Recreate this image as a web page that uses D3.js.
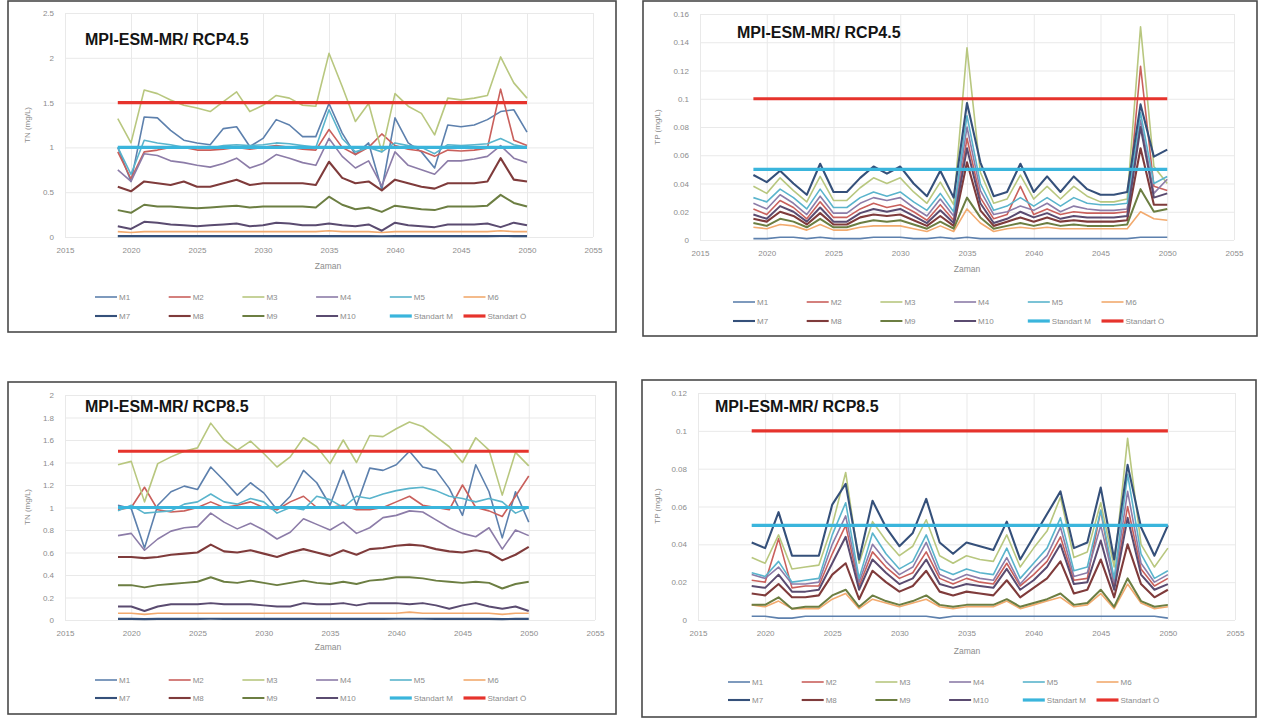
<!DOCTYPE html>
<html>
<head>
<meta charset="utf-8">
<script src="https://cdn.jsdelivr.net/npm/d3@7"></script>
<style>
  body { margin: 0; background: #fff; }
  svg { display: block; }
  text { font-family: "Liberation Sans", Arial, sans-serif; }
</style>
</head>
<body>
<svg id="chart" width="1266" height="720"></svg>
<script>
// ---- data ----
const years = [2019,2020,2021,2022,2023,2024,2025,2026,2027,2028,2029,2030,2031,2032,2033,2034,
               2035,2036,2037,2038,2039,2040,2041,2042,2043,2044,2045,2046,2047,2048,2049,2050];
const seriesNames = ["M1","M2","M3","M4","M5","M6","M7","M8","M9","M10"];
const standardNames = ["Standart M","Standart Ö"];
const xTicks = [2015,2020,2025,2030,2035,2040,2045,2050,2055];
const tnTicks45 = [0,0.5,1,1.5,2,2.5];
const tpTicks45 = [0,0.02,0.04,0.06,0.08,0.1,0.12,0.14,0.16];
const tnTicks85 = [0,0.2,0.4,0.6,0.8,1,1.2,1.4,1.6,1.8,2];
const tpTicks85 = [0,0.02,0.04,0.06,0.08,0.1,0.12];
const tnStandards = [1.0, 1.5];
const tpStandards = [0.05, 0.1];

// TN, RCP4.5 (rows M1..M10)
const tn45 = [
  [1.00,0.62,1.34,1.33,1.19,1.08,1.05,1.03,1.21,1.23,1.01,1.10,1.31,1.25,1.12,1.12,1.49,1.16,0.92,1.05,0.53,1.33,1.05,0.95,0.77,1.25,1.23,1.25,1.31,1.40,1.42,1.17],
  [0.95,0.65,0.95,0.97,1.00,1.00,0.97,0.97,0.98,1.00,0.98,1.00,1.02,1.00,0.98,0.97,1.20,1.00,0.92,1.00,1.15,1.02,0.98,0.96,0.90,0.97,0.96,0.97,0.99,1.65,1.08,1.02],
  [1.32,1.05,1.64,1.60,1.53,1.47,1.44,1.40,1.51,1.62,1.40,1.47,1.58,1.55,1.47,1.46,2.05,1.68,1.29,1.49,0.95,1.60,1.46,1.38,1.14,1.55,1.53,1.55,1.58,2.01,1.72,1.55],
  [0.75,0.62,0.93,0.91,0.85,0.83,0.80,0.78,0.82,0.88,0.77,0.82,0.92,0.88,0.83,0.80,1.10,0.90,0.77,0.85,0.57,0.95,0.80,0.75,0.70,0.85,0.85,0.87,0.90,1.02,0.88,0.83],
  [1.00,0.70,1.08,1.05,1.03,1.00,1.00,0.99,1.02,1.03,1.02,1.03,1.05,1.04,1.02,1.00,1.42,1.10,0.95,1.00,0.95,1.05,1.02,1.00,0.93,1.03,1.02,1.03,1.04,1.10,1.03,1.00],
  [0.06,0.05,0.06,0.06,0.06,0.06,0.06,0.06,0.06,0.06,0.06,0.06,0.06,0.06,0.06,0.06,0.07,0.06,0.06,0.06,0.05,0.06,0.06,0.06,0.06,0.06,0.06,0.06,0.06,0.07,0.06,0.06],
  [0.010,0.010,0.010,0.010,0.010,0.010,0.010,0.010,0.010,0.010,0.010,0.010,0.010,0.010,0.010,0.010,0.012,0.010,0.010,0.010,0.008,0.010,0.010,0.010,0.010,0.010,0.010,0.010,0.010,0.012,0.010,0.010],
  [0.56,0.51,0.62,0.60,0.58,0.62,0.56,0.56,0.60,0.64,0.58,0.60,0.60,0.60,0.60,0.58,0.84,0.66,0.60,0.62,0.52,0.64,0.60,0.56,0.54,0.60,0.60,0.60,0.62,0.88,0.64,0.62],
  [0.30,0.27,0.36,0.34,0.34,0.33,0.32,0.33,0.34,0.35,0.33,0.34,0.34,0.34,0.34,0.33,0.45,0.36,0.31,0.33,0.28,0.35,0.33,0.31,0.30,0.34,0.34,0.34,0.35,0.47,0.38,0.34],
  [0.12,0.09,0.17,0.16,0.14,0.13,0.12,0.13,0.14,0.15,0.12,0.13,0.16,0.15,0.13,0.13,0.15,0.13,0.12,0.14,0.07,0.16,0.13,0.12,0.11,0.14,0.14,0.14,0.15,0.11,0.16,0.13]
];

// TP, RCP4.5 (rows M1..M10)
const tp45 = [
  [0.001,0.001,0.002,0.002,0.001,0.002,0.001,0.001,0.001,0.002,0.002,0.002,0.001,0.001,0.002,0.001,0.002,0.001,0.001,0.001,0.001,0.001,0.001,0.001,0.001,0.001,0.001,0.001,0.001,0.002,0.002,0.002],
  [0.022,0.018,0.028,0.023,0.015,0.027,0.016,0.016,0.022,0.026,0.023,0.025,0.020,0.014,0.025,0.014,0.072,0.030,0.015,0.018,0.038,0.018,0.022,0.018,0.020,0.019,0.019,0.019,0.020,0.123,0.038,0.035],
  [0.038,0.033,0.044,0.035,0.027,0.045,0.028,0.028,0.037,0.044,0.040,0.044,0.034,0.026,0.041,0.025,0.136,0.048,0.026,0.029,0.046,0.029,0.038,0.029,0.038,0.031,0.027,0.027,0.029,0.151,0.052,0.040],
  [0.026,0.022,0.032,0.026,0.018,0.031,0.019,0.019,0.026,0.030,0.028,0.030,0.023,0.017,0.029,0.017,0.080,0.035,0.018,0.020,0.024,0.021,0.026,0.020,0.024,0.022,0.021,0.021,0.022,0.085,0.033,0.043],
  [0.030,0.027,0.036,0.030,0.022,0.036,0.023,0.023,0.030,0.034,0.031,0.034,0.027,0.021,0.033,0.020,0.088,0.040,0.021,0.024,0.030,0.024,0.030,0.024,0.030,0.026,0.025,0.025,0.026,0.090,0.040,0.045],
  [0.009,0.008,0.011,0.010,0.007,0.011,0.007,0.007,0.009,0.010,0.010,0.010,0.008,0.006,0.010,0.006,0.022,0.012,0.006,0.008,0.009,0.008,0.009,0.008,0.008,0.008,0.008,0.008,0.008,0.020,0.015,0.014],
  [0.046,0.041,0.049,0.040,0.032,0.054,0.034,0.034,0.044,0.052,0.047,0.052,0.040,0.031,0.049,0.030,0.097,0.055,0.031,0.034,0.054,0.034,0.045,0.034,0.045,0.036,0.032,0.032,0.034,0.096,0.059,0.064],
  [0.015,0.013,0.020,0.017,0.011,0.019,0.011,0.011,0.016,0.018,0.017,0.018,0.014,0.010,0.017,0.010,0.055,0.021,0.010,0.013,0.016,0.013,0.016,0.013,0.014,0.013,0.013,0.013,0.014,0.065,0.025,0.025],
  [0.012,0.010,0.015,0.013,0.009,0.015,0.009,0.009,0.012,0.014,0.013,0.014,0.011,0.008,0.013,0.008,0.030,0.016,0.008,0.010,0.012,0.010,0.012,0.010,0.011,0.010,0.010,0.010,0.011,0.036,0.020,0.022],
  [0.018,0.015,0.024,0.020,0.013,0.023,0.013,0.013,0.019,0.022,0.020,0.022,0.017,0.012,0.021,0.012,0.065,0.026,0.012,0.015,0.020,0.016,0.019,0.015,0.017,0.016,0.016,0.016,0.017,0.080,0.030,0.033]
];

// TN, RCP8.5 (rows M1..M10)
const tn85 = [
  [1.02,0.99,0.64,1.02,1.14,1.19,1.16,1.36,1.24,1.11,1.22,1.13,0.98,1.10,1.33,1.22,1.02,1.33,1.02,1.35,1.33,1.38,1.50,1.36,1.33,1.17,0.93,1.38,1.14,0.73,1.14,0.87],
  [0.98,1.00,1.18,0.98,0.96,0.97,1.00,1.05,1.00,1.02,1.05,1.00,0.98,1.05,1.10,1.00,1.00,1.02,0.98,0.98,1.00,1.05,1.10,1.02,1.00,0.98,1.20,1.00,0.97,0.92,1.10,1.28],
  [1.38,1.41,1.05,1.39,1.45,1.50,1.53,1.75,1.60,1.51,1.59,1.48,1.36,1.45,1.62,1.54,1.39,1.60,1.40,1.64,1.63,1.70,1.76,1.72,1.63,1.54,1.40,1.62,1.51,1.11,1.49,1.37],
  [0.75,0.77,0.62,0.72,0.79,0.82,0.83,0.95,0.87,0.81,0.86,0.80,0.72,0.78,0.90,0.85,0.80,0.87,0.77,0.82,0.91,0.93,0.97,0.96,0.89,0.82,0.77,0.74,0.82,0.63,0.80,0.75],
  [0.97,1.02,0.95,0.96,0.97,1.03,1.05,1.12,1.05,1.03,1.08,1.05,0.95,1.00,0.98,1.10,1.07,1.00,1.10,1.08,1.12,1.15,1.17,1.18,1.15,1.10,1.08,1.05,1.08,1.05,0.95,1.00],
  [0.06,0.06,0.05,0.06,0.06,0.06,0.06,0.06,0.06,0.06,0.06,0.06,0.06,0.06,0.06,0.06,0.06,0.06,0.06,0.06,0.06,0.06,0.07,0.06,0.06,0.06,0.06,0.06,0.06,0.05,0.06,0.06],
  [0.010,0.010,0.008,0.010,0.010,0.010,0.010,0.011,0.010,0.010,0.010,0.010,0.010,0.010,0.010,0.010,0.010,0.010,0.010,0.010,0.010,0.011,0.011,0.011,0.010,0.010,0.010,0.010,0.010,0.008,0.010,0.010],
  [0.56,0.56,0.55,0.56,0.58,0.59,0.60,0.67,0.61,0.60,0.62,0.59,0.56,0.60,0.63,0.60,0.57,0.62,0.58,0.63,0.64,0.66,0.67,0.66,0.63,0.61,0.60,0.62,0.60,0.53,0.58,0.65],
  [0.31,0.31,0.29,0.31,0.32,0.33,0.34,0.38,0.34,0.33,0.35,0.33,0.31,0.33,0.35,0.33,0.32,0.34,0.32,0.35,0.36,0.38,0.38,0.37,0.35,0.34,0.33,0.34,0.33,0.28,0.32,0.34],
  [0.12,0.12,0.08,0.12,0.14,0.14,0.14,0.15,0.14,0.14,0.14,0.13,0.12,0.12,0.15,0.14,0.14,0.15,0.13,0.15,0.15,0.15,0.14,0.15,0.13,0.10,0.13,0.15,0.12,0.10,0.12,0.08]
];

// TP, RCP8.5 (rows M1..M10)
const tp85 = [
  [0.002,0.002,0.001,0.001,0.002,0.002,0.002,0.002,0.002,0.002,0.002,0.002,0.002,0.002,0.001,0.002,0.002,0.002,0.002,0.002,0.002,0.002,0.002,0.002,0.002,0.002,0.002,0.002,0.002,0.002,0.002,0.001],
  [0.021,0.020,0.043,0.017,0.018,0.018,0.035,0.050,0.018,0.036,0.028,0.022,0.025,0.036,0.022,0.019,0.022,0.020,0.019,0.030,0.018,0.024,0.031,0.044,0.021,0.022,0.058,0.018,0.060,0.027,0.018,0.022],
  [0.033,0.030,0.045,0.027,0.028,0.029,0.050,0.078,0.030,0.052,0.042,0.034,0.039,0.053,0.034,0.030,0.034,0.032,0.031,0.045,0.028,0.038,0.047,0.065,0.033,0.036,0.062,0.028,0.096,0.040,0.028,0.038],
  [0.024,0.022,0.028,0.019,0.019,0.020,0.040,0.055,0.020,0.040,0.031,0.024,0.028,0.041,0.024,0.021,0.024,0.022,0.021,0.033,0.019,0.027,0.034,0.049,0.023,0.025,0.050,0.020,0.068,0.030,0.020,0.024],
  [0.025,0.023,0.031,0.020,0.021,0.022,0.045,0.062,0.022,0.046,0.035,0.027,0.031,0.045,0.027,0.024,0.027,0.025,0.024,0.038,0.022,0.030,0.038,0.054,0.026,0.028,0.058,0.022,0.077,0.035,0.022,0.026],
  [0.008,0.007,0.010,0.006,0.006,0.006,0.011,0.014,0.006,0.011,0.009,0.007,0.009,0.011,0.007,0.006,0.007,0.007,0.007,0.010,0.006,0.008,0.010,0.012,0.007,0.008,0.014,0.006,0.019,0.009,0.006,0.007],
  [0.041,0.038,0.057,0.034,0.034,0.034,0.061,0.072,0.032,0.063,0.049,0.039,0.046,0.064,0.041,0.035,0.041,0.039,0.037,0.052,0.032,0.044,0.056,0.068,0.038,0.041,0.070,0.032,0.082,0.049,0.034,0.050],
  [0.014,0.013,0.019,0.012,0.012,0.013,0.024,0.030,0.011,0.026,0.020,0.015,0.018,0.026,0.015,0.013,0.015,0.014,0.013,0.021,0.012,0.017,0.022,0.031,0.014,0.016,0.032,0.012,0.040,0.019,0.012,0.016],
  [0.008,0.008,0.012,0.006,0.007,0.007,0.013,0.016,0.007,0.013,0.010,0.008,0.010,0.013,0.008,0.007,0.008,0.008,0.008,0.011,0.007,0.009,0.011,0.014,0.008,0.009,0.016,0.007,0.022,0.010,0.007,0.008],
  [0.018,0.017,0.024,0.015,0.015,0.016,0.030,0.044,0.016,0.032,0.025,0.019,0.022,0.032,0.019,0.017,0.019,0.018,0.017,0.027,0.016,0.021,0.028,0.040,0.019,0.020,0.042,0.016,0.054,0.024,0.016,0.019]
];

// ---- styles ----
const seriesColors = ["#5d80ad","#c9605c","#b8c77f","#8c7ca8","#5ab4cc","#f2aa6e",
                      "#35507a","#7f3b3b","#6c7e42","#5a4b70"];
const seriesWidths = [1.6,1.6,1.6,1.6,1.6,1.6,2.1,2.1,2.0,2.0];
const standardColors = ["#3ab5dc","#e6332c"];
const standardWidth = 3.2;

const panels = [
  { data: tn45, std: tnStandards, yTicks: tnTicks45, yMax: 2.5, title: "MPI-ESM-MR/ RCP4.5", yTitle: "TN (mg/L)",
    frame: [8,1,616,332], px: [65,593], py: [237,13], titleXY: [85,45], yTitleXY: [30,125], xTitleXY: [328,269],
    legX: 95, legRows: [297,316] },
  { data: tp45, std: tpStandards, yTicks: tpTicks45, yMax: 0.16, title: "MPI-ESM-MR/ RCP4.5", yTitle: "TP (mg/L)",
    frame: [643,1,1257,336], px: [700,1234], py: [240,14], titleXY: [737,38], yTitleXY: [660,127], xTitleXY: [967,272],
    legX: 733, legRows: [302,321] },
  { data: tn85, std: tnStandards, yTicks: tnTicks85, yMax: 2, title: "MPI-ESM-MR/ RCP8.5", yTitle: "TN (mg/L)",
    frame: [8,382,616,714], px: [65,595], py: [620,395], titleXY: [85,412], yTitleXY: [30,507], xTitleXY: [328,650],
    legX: 95, legRows: [680,698] },
  { data: tp85, std: tpStandards, yTicks: tpTicks85, yMax: 0.12, title: "MPI-ESM-MR/ RCP8.5", yTitle: "TP (mg/L)",
    frame: [642,380,1256,717], px: [698,1235], py: [620,393], titleXY: [715,412], yTitleXY: [660,506], xTitleXY: [967,654],
    legX: 728, legRows: [682,700] }
];

const svg = d3.select("#chart");
const labelColor = "#8c8c8c";

function drawPanel(p) {
  const g = svg.append("g");

  g.append("rect")
    .attr("x", p.frame[0]).attr("y", p.frame[1])
    .attr("width", p.frame[2] - p.frame[0]).attr("height", p.frame[3] - p.frame[1])
    .attr("fill", "#fff").attr("stroke", "#4a4a4a").attr("stroke-width", 1.6);

  const x = d3.scaleLinear().domain([2015, 2055]).range(p.px);
  const y = d3.scaleLinear().domain([0, p.yMax]).range(p.py);

  // vertical grid + year labels
  g.append("g")
    .attr("transform", `translate(0,${p.py[0]})`)
    .call(d3.axisBottom(x).tickValues(xTicks).tickFormat(d3.format("d"))
      .tickSize(-(p.py[0] - p.py[1])).tickPadding(10))
    .call(a => {
      a.select(".domain").remove();
      a.selectAll(".tick line").attr("stroke", "#e9e9e9");
      a.selectAll(".tick text").attr("fill", labelColor).attr("font-size", 8)
        .attr("font-family", "'Liberation Sans', Arial, sans-serif");
    });

  // horizontal grid + value labels
  g.append("g")
    .attr("transform", `translate(${p.px[0]},0)`)
    .call(d3.axisLeft(y).tickValues(p.yTicks).tickFormat(d3.format("~g"))
      .tickSize(-(p.px[1] - p.px[0])).tickPadding(11))
    .call(a => {
      a.select(".domain").remove();
      a.selectAll(".tick line").attr("stroke", "#e9e9e9");
      a.selectAll(".tick text").attr("fill", labelColor).attr("font-size", 8)
        .attr("font-family", "'Liberation Sans', Arial, sans-serif");
    });

  const line = d3.line().x((d, i) => x(years[i])).y(d => y(d));

  // model series
  p.data.forEach((vals, k) => {
    g.append("path").datum(vals)
      .attr("d", line)
      .attr("fill", "none")
      .attr("stroke", seriesColors[k])
      .attr("stroke-width", seriesWidths[k])
      .attr("stroke-linejoin", "round");
  });

  // standard limits
  p.std.forEach((v, k) => {
    g.append("path").datum(years.map(() => v))
      .attr("d", line)
      .attr("fill", "none")
      .attr("stroke", standardColors[k])
      .attr("stroke-width", standardWidth);
  });

  // title
  g.append("text")
    .attr("x", p.titleXY[0]).attr("y", p.titleXY[1])
    .attr("font-size", 16).attr("font-weight", "bold").attr("fill", "#141414")
    .text(p.title);

  // axis titles
  g.append("text")
    .attr("transform", `translate(${p.yTitleXY[0]},${p.yTitleXY[1]}) rotate(-90)`)
    .attr("text-anchor", "middle").attr("font-size", 8).attr("fill", labelColor)
    .text(p.yTitle);
  g.append("text")
    .attr("x", p.xTitleXY[0]).attr("y", p.xTitleXY[1])
    .attr("text-anchor", "middle").attr("font-size", 8.5).attr("fill", labelColor)
    .text("Zaman");

  // legend
  const entries = seriesNames.map((n, k) => ({ name: n, color: seriesColors[k], w: seriesWidths[k] }))
    .concat(standardNames.map((n, k) => ({ name: n, color: standardColors[k], w: standardWidth })));
  entries.forEach((e, i) => {
    const lx = p.legX + (i % 6) * 73.7;
    const ly = p.legRows[Math.floor(i / 6)];
    g.append("line")
      .attr("x1", lx).attr("x2", lx + 22).attr("y1", ly).attr("y2", ly)
      .attr("stroke", e.color).attr("stroke-width", e.w);
    g.append("text")
      .attr("x", lx + 24).attr("y", ly + 3)
      .attr("font-size", 8).attr("fill", labelColor)
      .text(e.name);
  });
}

panels.forEach(drawPanel);
</script>
</body>
</html>
